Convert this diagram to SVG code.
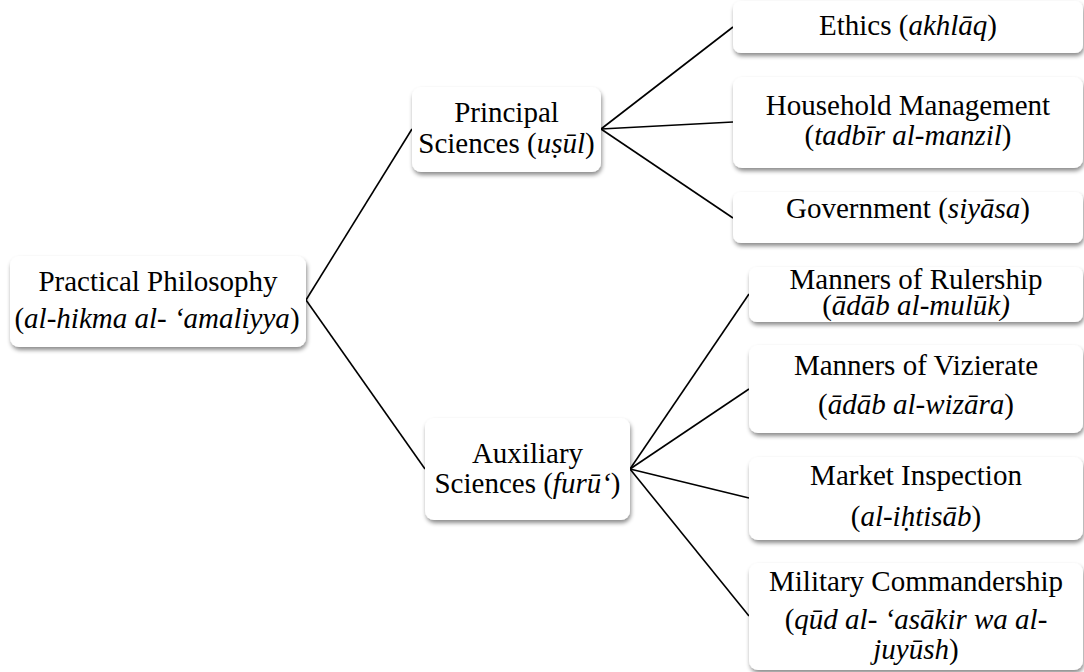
<svg xmlns="http://www.w3.org/2000/svg" width="1084" height="672" viewBox="0 0 1084 672">
  <defs>
    <filter id="shadow" x="-10%" y="-20%" width="120%" height="150%">
      <feDropShadow dx="1" dy="3" stdDeviation="2" flood-color="#000" flood-opacity="0.45"/>
    </filter>
  </defs>
  <style>
    .box { fill: #ffffff; filter: url(#shadow); }
    .lbl { font-family: "Liberation Serif", "Times New Roman", serif; font-size: 29px; fill: #000; text-anchor: middle; }
    .it { font-style: italic; }
    .link { stroke: #000; stroke-width: 1.6; fill: none; }
  </style>
  <rect width="1084" height="672" fill="#ffffff"/>

  <!-- tree connectors -->
  <g id="connectors">
    <line class="link" x1="306" y1="300" x2="412" y2="129"/>
    <line class="link" x1="306" y1="300" x2="425" y2="469"/>
    <line class="link" x1="601" y1="129" x2="733" y2="27"/>
    <line class="link" x1="601" y1="129" x2="733" y2="122"/>
    <line class="link" x1="601" y1="129" x2="733" y2="218"/>
    <line class="link" x1="630" y1="469" x2="749" y2="294"/>
    <line class="link" x1="630" y1="469" x2="749" y2="389"/>
    <line class="link" x1="630" y1="469" x2="749" y2="498"/>
    <line class="link" x1="630" y1="469" x2="749" y2="616"/>
  </g>

  <!-- root -->
  <g id="practical-philosophy">
    <rect class="box" x="10" y="256" width="296" height="91" rx="9"/>
    <text class="lbl" x="158" y="291">Practical Philosophy</text>
    <text class="lbl" x="157" y="328">(<tspan class="it">al-hikma al- ‘amaliyya</tspan>)</text>
  </g>

  <!-- first tier -->
  <g id="principal-sciences">
    <rect class="box" x="412" y="87" width="189" height="85" rx="9"/>
    <text class="lbl" x="506.5" y="122">Principal</text>
    <text class="lbl" x="506.5" y="153">Sciences (<tspan class="it">uṣūl</tspan>)</text>
  </g>

  <g id="auxiliary-sciences">
    <rect class="box" x="425" y="418" width="205" height="102" rx="9"/>
    <text class="lbl" x="527.5" y="463">Auxiliary</text>
    <text class="lbl" x="527.5" y="493">Sciences (<tspan class="it">furū‘</tspan>)</text>
  </g>

  <!-- branches of the principal sciences -->
  <g id="ethics">
    <rect class="box" x="733" y="1" width="350" height="52" rx="8"/>
    <text class="lbl" x="908" y="35">Ethics (<tspan class="it">akhlāq</tspan>)</text>
  </g>

  <g id="household-management">
    <rect class="box" x="733" y="77" width="350" height="91" rx="9"/>
    <text class="lbl" x="908" y="115">Household Management</text>
    <text class="lbl" x="908" y="145">(<tspan class="it">tadbīr al-manzil</tspan>)</text>
  </g>

  <g id="government">
    <rect class="box" x="733" y="192" width="350" height="51" rx="8"/>
    <text class="lbl" x="908" y="218">Government (<tspan class="it">siyāsa</tspan>)</text>
  </g>

  <!-- branches of the auxiliary sciences -->
  <g id="manners-of-rulership">
    <rect class="box" x="749" y="267" width="334" height="55" rx="8"/>
    <text class="lbl" x="916" y="289">Manners of Rulership</text>
    <text class="lbl" x="916" y="315">(<tspan class="it">ādāb al-mulūk)</tspan></text>
  </g>

  <g id="manners-of-vizierate">
    <rect class="box" x="749" y="345" width="334" height="88" rx="9"/>
    <text class="lbl" x="916" y="375">Manners of Vizierate</text>
    <text class="lbl" x="916" y="414">(<tspan class="it">ādāb al-wizāra</tspan>)</text>
  </g>

  <g id="market-inspection">
    <rect class="box" x="749" y="457" width="334" height="83" rx="9"/>
    <text class="lbl" x="916" y="485">Market Inspection</text>
    <text class="lbl" x="916" y="526">(<tspan class="it">al-iḥtisāb</tspan>)</text>
  </g>

  <g id="military-commandership">
    <rect class="box" x="749" y="563" width="334" height="107" rx="9"/>
    <text class="lbl" x="916" y="591">Military Commandership</text>
    <text class="lbl" x="916" y="629">(<tspan class="it">qūd al- ‘asākir wa al-</tspan></text>
    <text class="lbl" x="916" y="659"><tspan class="it">juyūsh</tspan>)</text>
  </g>
</svg>
